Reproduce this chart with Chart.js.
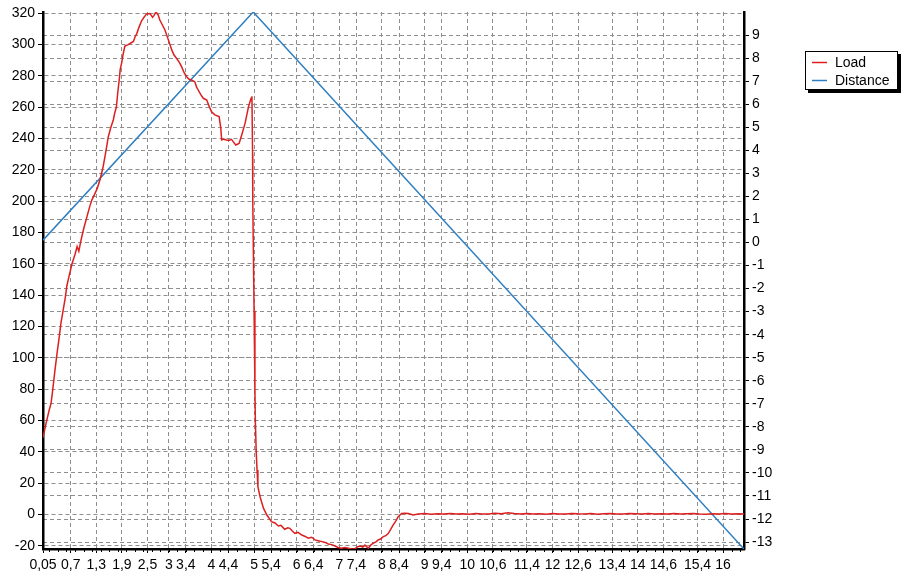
<!DOCTYPE html>
<html>
<head>
<meta charset="utf-8">
<title>Load / Distance</title>
<script src="https://cdn.jsdelivr.net/npm/chart.js@4/dist/chart.umd.min.js"></script>
<style>
  html, body { margin: 0; padding: 0; background: #ffffff; }
  canvas { display: block; }
</style>
</head>
<body>
<canvas id="chart" width="902" height="579"></canvas>
<script>
// Load curve: time [s] and load readings
const loadTime = [
  0.05, 0.12, 0.19, 0.24, 0.28, 0.33, 0.38, 0.43, 0.47, 0.52,
  0.57, 0.61, 0.66, 0.73, 0.80, 0.85, 0.89, 0.94, 1.01, 1.08,
  1.15, 1.20, 1.27, 1.32, 1.39, 1.46, 1.50, 1.55, 1.58, 1.64,
  1.70, 1.73, 1.77, 1.81, 1.84, 1.86, 1.90, 1.93, 1.97, 2.05,
  2.11, 2.17, 2.21, 2.25, 2.30, 2.36, 2.42, 2.48, 2.56, 2.62,
  2.65, 2.70, 2.75, 2.79, 2.85, 2.91, 2.99, 3.07, 3.12, 3.18,
  3.24, 3.30, 3.36, 3.42, 3.47, 3.53, 3.61, 3.65, 3.69, 3.75,
  3.81, 3.89, 3.94, 4.00, 4.08, 4.18, 4.22, 4.24, 4.29, 4.35,
  4.41, 4.47, 4.51, 4.57, 4.62, 4.65, 4.71, 4.75, 4.79, 4.87,
  4.93, 4.95, 4.965, 4.97, 5.00, 5.02, 5.03, 5.05, 5.07, 5.09,
  5.14, 5.22, 5.30, 5.41, 5.49, 5.57, 5.63, 5.72, 5.79, 5.84,
  5.90, 5.96, 6.03, 6.12, 6.20, 6.27, 6.35, 6.43, 6.50, 6.59,
  6.67, 6.74, 6.82, 6.90, 6.97, 7.05, 7.13, 7.21, 7.28, 7.37,
  7.43, 7.49, 7.55, 7.60, 7.68, 7.74, 7.80, 7.86, 7.91, 7.97,
  8.03, 8.09, 8.15, 8.21, 8.26, 8.33, 8.38, 8.46, 8.54, 8.62,
  8.73, 8.85, 9.00, 9.15, 9.30, 9.45, 9.60, 9.75, 9.90, 10.05,
  10.20, 10.35, 10.50, 10.65, 10.80, 10.95, 11.10, 11.25, 11.40, 11.55,
  11.70, 11.85, 12.00, 12.15, 12.30, 12.45, 12.60, 12.75, 12.90, 13.05,
  13.20, 13.35, 13.50, 13.65, 13.80, 13.95, 14.10, 14.25, 14.40, 14.55,
  14.70, 14.85, 15.00, 15.15, 15.30, 15.45, 15.60, 15.75, 15.90, 16.05,
  16.20, 16.35, 16.49
];
const loadValue = [
  49, 58, 66, 71, 80, 92, 103, 113, 122, 130,
  138, 146, 152, 160, 166, 171, 168, 175, 183, 190,
  197, 201, 205, 208, 214, 222, 228, 236, 241, 247,
  252, 256, 260, 271, 278, 284, 289, 294, 299, 300,
  301, 302, 305, 307, 311, 315, 317.5, 319.6, 319.8, 317.4,
  318.5, 320.8, 319, 315.7, 312.5, 309.3, 303, 296.6, 293.5, 291.3,
  289, 285.9, 282, 279.5, 278, 277.4, 276.3, 273, 271, 268,
  265.7, 264.6, 261, 257.2, 255.1, 254, 246.6, 239.1, 239.6, 239.1,
  238.8, 239.5, 238, 235.9, 236.5, 237, 242.3, 246, 249.8, 260.4,
  265.7, 267, 230, 200, 130, 80, 60, 40, 28.4, 17.7,
  11.3, 4, -0.4, -4.6, -5.5, -7.4, -7.0, -9.5, -8.6, -8.9,
  -10.8, -12.1, -11.5, -13.2, -14.1, -15.2, -14.6, -16.3, -16.8, -17.4,
  -17.9, -18.9, -19.3, -20.2, -21.1, -21.6, -21.2, -21.6, -22.1, -21.9,
  -20.6, -20.2, -20.9, -19.6, -21.6, -19.5, -18.4, -17.5, -16.3, -15.7,
  -14.2, -13.6, -12.1, -9.3, -6.8, -4.0, -1.5, 0.6, 0.8, 0.6,
  -0.4, 0.2, 0.5, 0.1, 0.4, 0.3, 0.6, 0.2, 0.4, 0.1,
  0.5, 0.3, 0.2, 0.7, 0.4, 1.1, 0.5, 0.2, 0.6, 0.3,
  0.4, 0.1, 0.5, 0.3, 0.2, 0.6, 0.4, 0.3, 0.5, 0.1,
  0.4, 0.6, 0.3, 0.2, 0.5, 0.4, 0.3, 0.6, 0.2, 0.4,
  0.3, 0.5, 0.2, 0.4, 0.6, 0.3, 0.1, 0.4, 0.3, 0.5,
  0.2, 0.4, 0.3
];

// Distance: travel out to the turning point and back
const distanceTime = [0.05, 4.98, 16.49];
const distanceValue = [0.1, 10.0, -13.3];

// Axis tick labels
const xTickLabels = [
  "0,05", "0,7", "1,3", "1,9", "2,5", "3", "3,4", "4", "4,4", "5",
  "5,4", "6", "6,4", "7", "7,4", "8", "8,4", "9", "9,4", "10",
  "10,6", "11,4", "12", "12,6", "13,4", "14", "14,6", "15,4", "16"
];
const loadTicks = [-20, 0, 20, 40, 60, 80, 100, 120, 140, 160, 180, 200, 220, 240, 260, 280, 300, 320];
const distanceTicks = [-13, -12, -11, -10, -9, -8, -7, -6, -5, -4, -3, -2, -1, 0, 1, 2, 3, 4, 5, 6, 7, 8, 9];

const seriesNames = ["Load", "Distance"];
const seriesColors = ["#dd1f1f", "#2f7fc0"];

const toNumber = s => parseFloat(s.replace(",", "."));
const xTickValues = xTickLabels.map(toNumber);

const FONT = '"Liberation Sans", Arial, sans-serif';
Chart.defaults.font.family = FONT;
Chart.defaults.font.size = 14;
Chart.defaults.color = "#000";

const GRID_COLOR = "#8e8e8e";
const GRID_DASH = [4, 3];

// Boxed legend with a drop shadow in the right margin
const boxLegend = {
  id: "boxLegend",
  afterDraw(chart) {
    const ctx = chart.ctx;
    const x = 805, y = 51, w = 93, h = 39;
    ctx.save();
    ctx.fillStyle = "#000";
    ctx.fillRect(x + 3, y + 3, w, h);
    ctx.fillStyle = "#fff";
    ctx.fillRect(x, y, w, h);
    ctx.strokeStyle = "#000";
    ctx.lineWidth = 1;
    ctx.strokeRect(x + 0.5, y + 0.5, w - 1, h - 1);
    ctx.font = "14px " + FONT;
    ctx.textBaseline = "middle";
    ctx.textAlign = "left";
    chart.data.datasets.forEach((ds, i) => {
      const ry = y + 11 + i * 18;
      ctx.strokeStyle = ds.borderColor;
      ctx.lineWidth = 1.5;
      ctx.beginPath();
      ctx.moveTo(x + 7, ry + 0.5);
      ctx.lineTo(x + 22, ry + 0.5);
      ctx.stroke();
      ctx.fillStyle = "#000";
      ctx.fillText(ds.label, x + 30, ry + 1);
    });
    ctx.restore();
  }
};

// Small minor tick marks under the time axis
const minorTicks = {
  id: "minorTicks",
  afterDraw(chart) {
    const sx = chart.scales.x;
    const bottom = chart.chartArea.bottom;
    const ctx = chart.ctx;
    ctx.save();
    ctx.strokeStyle = "#000";
    ctx.lineWidth = 1;
    ctx.beginPath();
    for (let k = 1; k * 0.2 < sx.max; k++) {
      const px = Math.round(sx.getPixelForValue(k * 0.2)) + 0.5;
      ctx.moveTo(px, bottom);
      ctx.lineTo(px, bottom + 3);
    }
    ctx.stroke();
    ctx.restore();
  }
};

const loadPoints = loadTime.map((t, i) => ({ x: t, y: loadValue[i] }));
const distancePoints = distanceTime.map((t, i) => ({ x: t, y: distanceValue[i] }));

new Chart(document.getElementById("chart"), {
  type: "line",
  data: {
    datasets: [
      {
        label: seriesNames[0],
        data: loadPoints,
        yAxisID: "y",
        borderColor: seriesColors[0],
        borderWidth: 1.5,
        pointRadius: 0,
        tension: 0,
        fill: false
      },
      {
        label: seriesNames[1],
        data: distancePoints,
        yAxisID: "y2",
        borderColor: seriesColors[1],
        borderWidth: 1.5,
        pointRadius: 0,
        tension: 0,
        fill: false
      }
    ]
  },
  options: {
    responsive: false,
    animation: false,
    events: [],
    layout: { padding: { top: 12, left: 0, right: 0, bottom: 0 } },
    plugins: {
      legend: { display: false },
      tooltip: { enabled: false }
    },
    scales: {
      x: {
        type: "linear",
        min: Math.min(...loadTime),
        max: Math.max(...loadTime),
        afterBuildTicks(scale) {
          scale.ticks = xTickValues.map(v => ({ value: v }));
        },
        afterFit(scale) { scale.height = 30; },
        ticks: {
          autoSkip: false,
          maxRotation: 0,
          minRotation: 0,
          padding: 4,
          callback: (value, index) => xTickLabels[index]
        },
        grid: {
          color: GRID_COLOR,
          lineWidth: 1,
          tickLength: 4,
          tickColor: "#000",
          tickWidth: 1
        },
        border: { display: true, color: "#000", width: 2.5, dash: GRID_DASH }
      },
      y: {
        type: "linear",
        position: "left",
        min: Math.min(...loadValue),
        max: Math.max(...loadValue),
        afterBuildTicks(scale) {
          scale.ticks = loadTicks.map(v => ({ value: v }));
        },
        afterFit(scale) { scale.width = 43; },
        ticks: { padding: 3 },
        grid: {
          color: GRID_COLOR,
          lineWidth: 1,
          tickLength: 5,
          tickColor: "#000",
          tickWidth: 1
        },
        border: { display: true, color: "#000", width: 2.5, dash: GRID_DASH }
      },
      y2: {
        type: "linear",
        position: "right",
        min: Math.min(...distanceValue),
        max: Math.max(...distanceValue),
        afterBuildTicks(scale) {
          scale.ticks = distanceTicks.map(v => ({ value: v }));
        },
        afterFit(scale) { scale.width = 158; },
        ticks: { padding: 3 },
        grid: {
          color: GRID_COLOR,
          lineWidth: 1,
          tickLength: 5,
          tickColor: "#000",
          tickWidth: 1,
          drawOnChartArea: true
        },
        border: { display: true, color: "#000", width: 2.5, dash: GRID_DASH }
      }
    }
  },
  plugins: [boxLegend, minorTicks]
});
</script>
</body>
</html>
